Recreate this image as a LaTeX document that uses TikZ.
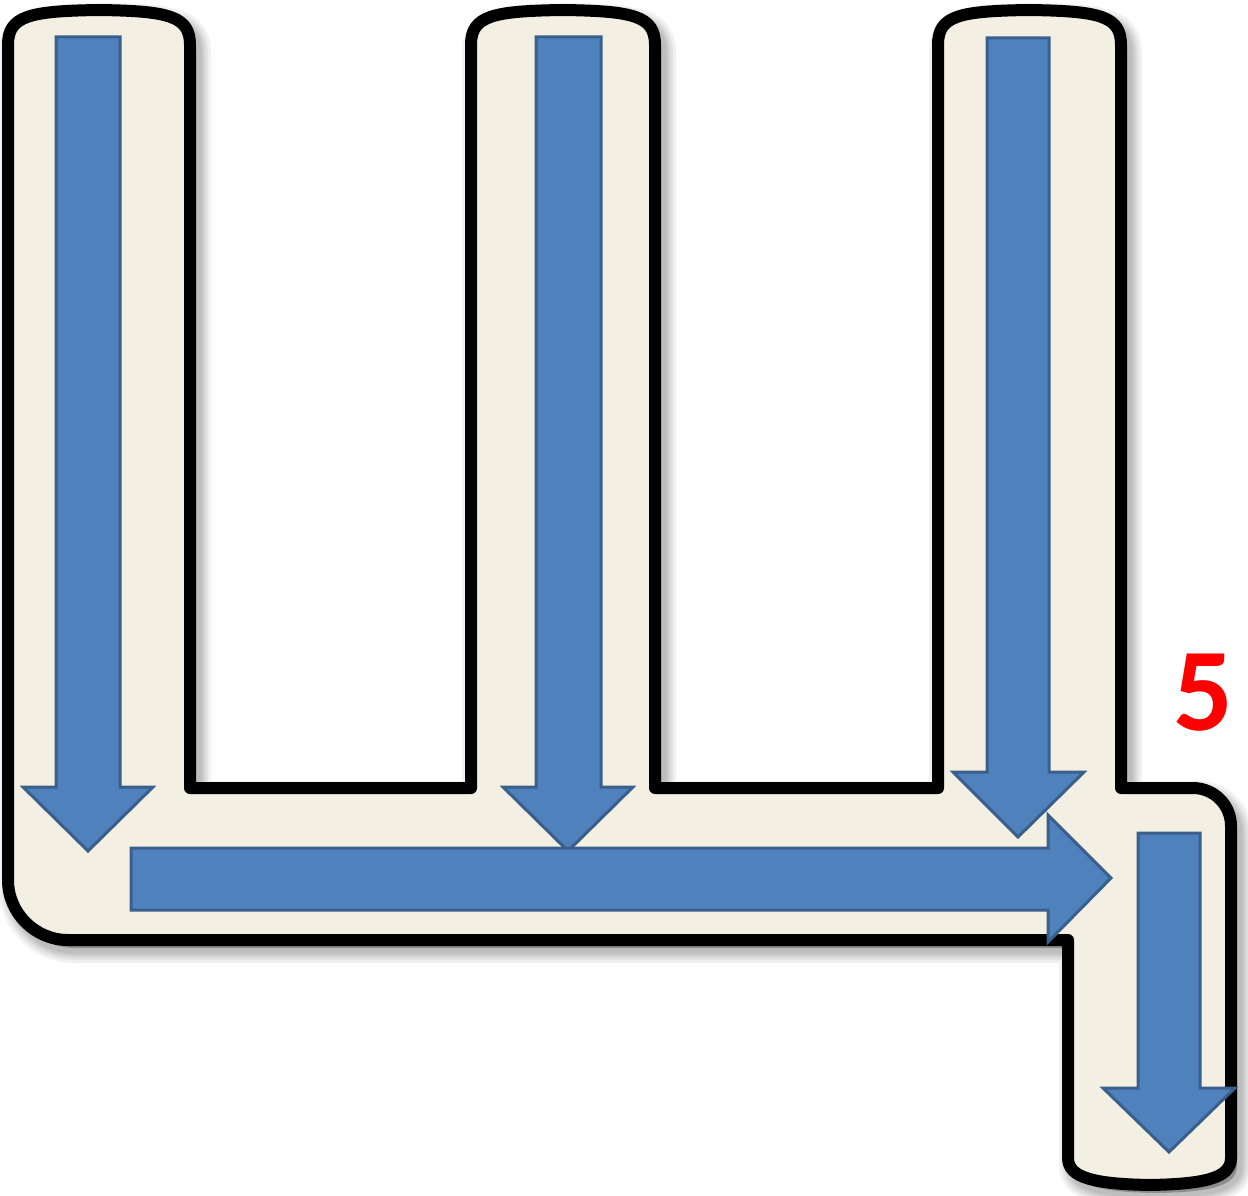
\documentclass[tikz,border=0pt]{standalone}
\usepackage{fontspec}
\newfontfamily\digitfont{Carlito}
\definecolor{creamfill}{HTML}{F3F0E3}
\definecolor{arrowblue}{HTML}{4F81BD}
\definecolor{arrowedge}{HTML}{3A5F8B}
\tikzset{
  outlinepath/.style={line width=12pt, line join=round, draw=black, fill=creamfill},
  shadowpath/.style={line join=round, draw=black, fill=black, opacity=0.055},
  bluearrow/.style={fill=arrowblue, draw=arrowedge, line width=3pt, line join=miter},
}
\newcommand{\shapeoutline}{%
  (8,45) -- (8,880) .. controls (8,913) and (35,940) .. (68,940) -- (1068,940)
  -- (1068,1158) .. controls (1068,1178) and (1095,1184) .. (1150,1185)
  .. controls (1205,1184) and (1231,1178) .. (1231,1158)
  -- (1231,826) .. controls (1231,805) and (1214,788) .. (1193,788) -- (1121,788)
  -- (1121,45) .. controls (1121,16) and (1100,11) .. (1029,10)
  .. controls (958,11) and (938,16) .. (938,45)
  -- (938,788) -- (655,788)
  -- (655,45) .. controls (655,16) and (634,11) .. (563,10)
  .. controls (492,11) and (471,16) .. (471,45)
  -- (471,788) -- (190,788)
  -- (190,45) .. controls (190,16) and (169,11) .. (99,10)
  .. controls (29,11) and (8,16) .. (8,45) -- cycle}
\begin{document}
\begin{tikzpicture}[x=1pt,y=-1pt]
\useasboundingbox (0,0) rectangle (1248,1196);
\fill[white] (0,0) rectangle (1248,1196);
% soft shadow
\foreach \w in {30,24,19,15,11} {
  \path[shadowpath, line width=\w pt, shift={(6,8)}] \shapeoutline;
}
% letter outline
\path[outlinepath] \shapeoutline;
% arrows
\path[bluearrow] (56,37) -- (120,37) -- (120,787) -- (153,787) -- (88,851) -- (23,787) -- (56,787) -- cycle;
\path[bluearrow] (536,37) -- (601,37) -- (601,787) -- (633,787) -- (568,851) -- (503,787) -- (536,787) -- cycle;
\path[bluearrow] (987,38) -- (1049,38) -- (1049,772) -- (1084,772) -- (1018,837) -- (953,772) -- (987,772) -- cycle;
\path[bluearrow] (131,848) -- (1048,848) -- (1048,815) -- (1111,878) -- (1048,942) -- (1048,910) -- (131,910) -- cycle;
\path[bluearrow] (1138,833) -- (1200,833) -- (1200,1088) -- (1235,1088) -- (1169,1152) -- (1103,1088) -- (1138,1088) -- cycle;
% stroke count label
\node[inner sep=0pt, text=red, font=\digitfont\bfseries\fontsize{118}{118}\selectfont] (five) at (1203,693) {5};
\end{tikzpicture}
\end{document}
